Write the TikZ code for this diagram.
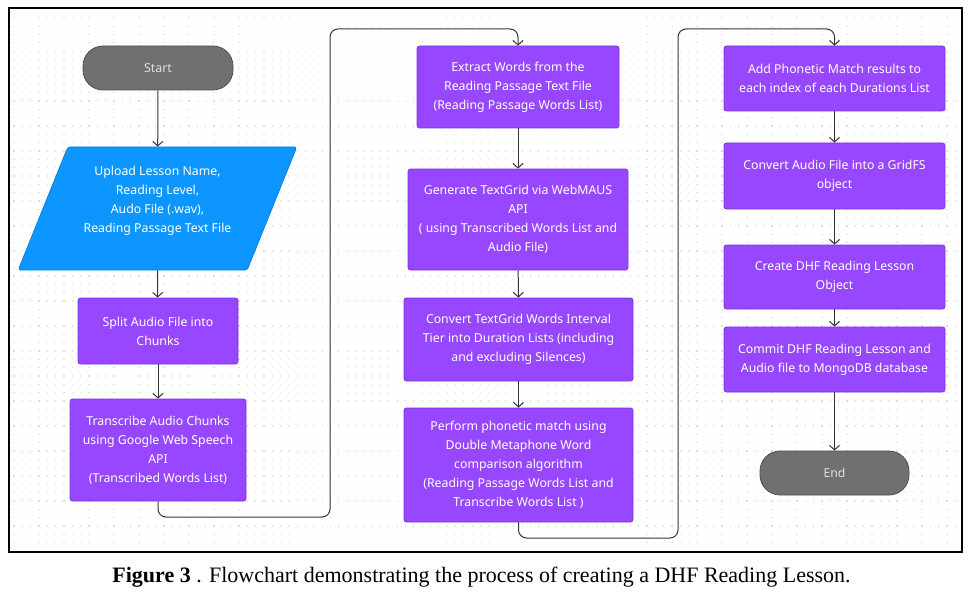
\documentclass[tikz,border=0pt]{standalone}
\usepackage{fontspec}
\setmainfont{Liberation Serif}
\newfontfamily\boxfont{Noto Sans}
\usetikzlibrary{arrows.meta,shapes.geometric}
\definecolor{flowpurple}{RGB}{151,71,255}
\definecolor{flowpurpleline}{RGB}{125,52,222}
\definecolor{flowblue}{RGB}{13,150,255}
\definecolor{flowblueline}{RGB}{10,128,222}
\definecolor{flowgray}{RGB}{112,112,112}
\definecolor{flowgrayline}{RGB}{80,80,80}
\definecolor{dotgray}{RGB}{222,222,222}
\definecolor{linkgray}{RGB}{51,51,51}
\tikzset{
  flowtext/.style={font=\boxfont\fontsize{12.3}{19}\selectfont, text=white, align=center, inner sep=0pt},
  process/.style={flowtext, rectangle, draw=flowpurpleline, fill=flowpurple, rounded corners=2.5pt, line width=0.8pt},
  term/.style={flowtext, rectangle, draw=flowgrayline, fill=flowgray, text=white!88!black, rounded corners=20pt, line width=0.8pt, minimum width=150pt, minimum height=44pt},
  io/.style={flowtext, trapezium, trapezium left angle=64.4, trapezium right angle=115.6, trapezium stretches=true, draw=flowblueline, fill=flowblue, rounded corners=2.5pt, line width=0.8pt},
  link/.style={draw=linkgray, line width=1pt, -{Straight Barb[length=4.5pt,width=10pt,line width=1pt]}}
}
\begin{document}
\begin{tikzpicture}[x=1pt,y=-1pt]
  \useasboundingbox (0,0) rectangle (973,604);
  % dotted canvas
  \foreach \y in {17.8,26.13,...,548}
    \draw[dotgray, line width=1.2pt, dash pattern=on 1.2pt off 7.13pt] (13.4,\y) -- (959,\y);
  \draw[black, line width=1.4pt] (9,8) rectangle (962,552);
  \draw
    (158,68) node[term] (0){Start}
    (157.5,208.5) node[io, minimum width=279pt, minimum height=123pt] (1){Upload Lesson Name,\\Reading Level,\\Audo File (.wav),\\Reading Passage Text File\\~}
    (158,331) node[process, minimum width=160pt, minimum height=66pt] (2){Split Audio File into\\Chunks}
    (158,450) node[process, minimum width=176pt, minimum height=102pt] (3){Transcribe  Audio Chunks\\using Google Web Speech\\API\\(Transcribed Words List)}
    (518,87) node[process, minimum width=202pt, minimum height=82pt] (4){Extract Words  from the\\Reading Passage Text File\\(Reading Passage Words List)}
    (518,219.5) node[process, minimum width=220pt, minimum height=101pt] (5){Generate TextGrid via WebMAUS\\API\\( using Transcribed Words List and\\Audio File)}
    (518.5,339.5) node[process, minimum width=229pt, minimum height=83pt] (6){Convert TextGrid Words Interval\\Tier into Duration Lists (including\\and excluding Silences)}
    (518.5,465) node[process, minimum width=229pt, minimum height=114pt] (7){Perform phonetic match using\\Double Metaphone Word\\comparison algorithm\\(Reading Passage Words List and\\Transcribe Words List )}
    (834.5,78.5) node[process, minimum width=221pt, minimum height=65pt] (8){Add Phonetic Match results to\\each index of each Durations List}
    (834.5,176) node[process, minimum width=221pt, minimum height=66pt] (9){Convert Audio File into a GridFS\\object}
    (834.5,277) node[process, minimum width=221pt, minimum height=64pt] (10){Create DHF Reading Lesson\\Object}
    (834.5,359.5) node[process, minimum width=221pt, minimum height=65pt] (11){Commit DHF Reading Lesson and\\Audio file to MongoDB database}
    (834.5,473) node[term, minimum width=149pt] (12){End}
    (481.5,577) node[font=\fontsize{22}{25}\selectfont] (13){\textbf{Figure 3} . Flowchart demonstrating the process of creating a DHF Reading Lesson.};
  \begin{scope}[link]
    \draw (0) to (1);
    \draw (1.south) to (2);
    \draw (2) to (3);
    \draw[rounded corners=8pt] (3.south) |- (330,517) -- (330,29) -| (4.north);
    \draw (4) to (5);
    \draw (5) to (6);
    \draw (6) to (7);
    \draw[rounded corners=8pt] (7.south) |- (678,538) -- (678,29) -| (8.north);
    \draw (8) to (9);
    \draw (9) to (10);
    \draw (10) to (11);
    \draw (11) to (12);
  \end{scope}
\end{tikzpicture}
\end{document}
